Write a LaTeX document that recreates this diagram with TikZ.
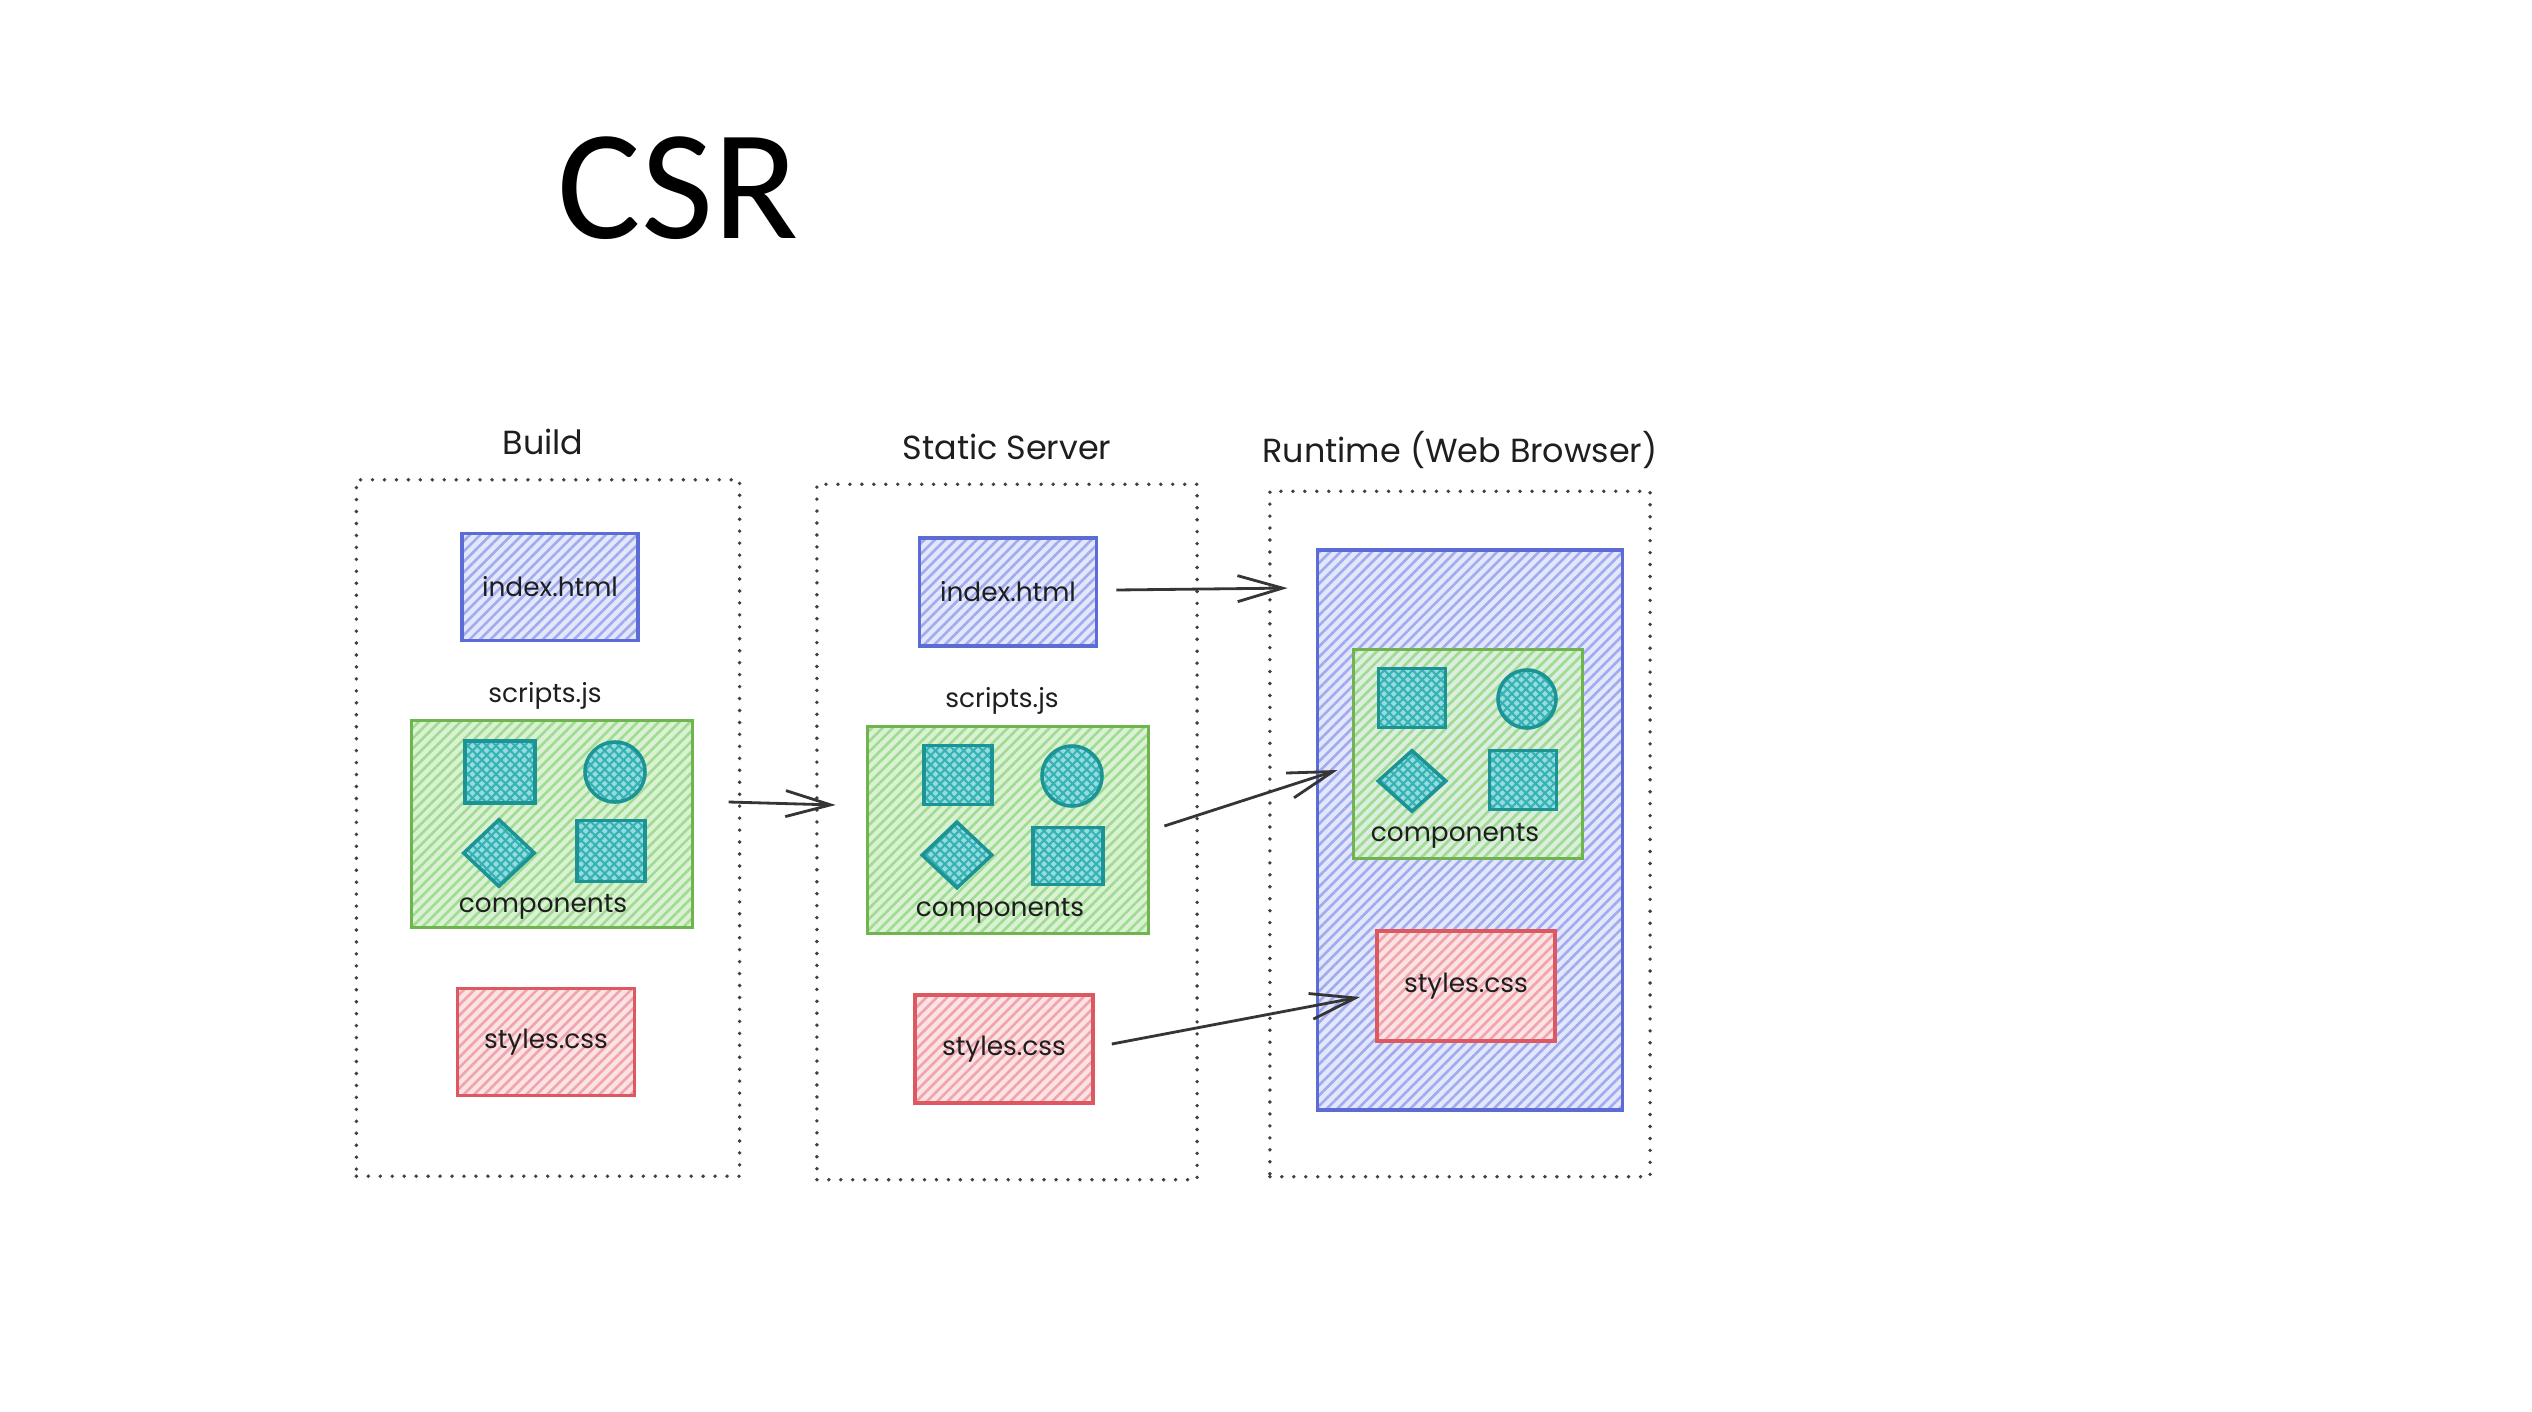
\documentclass[tikz,border=0pt]{standalone}
\usepackage{fontspec}
\setmainfont{Poppins}
\newfontfamily\titlefont{Carlito}
\usetikzlibrary{calc,shapes.geometric,patterns.meta,arrows.meta}

\definecolor{blueline}{RGB}{92,107,214}
\definecolor{bluehatch}{RGB}{160,172,238}
\definecolor{bluefill}{RGB}{228,231,251}
\definecolor{greenline}{RGB}{112,180,78}
\definecolor{greenhatch}{RGB}{160,220,148}
\definecolor{greenfill}{RGB}{218,241,211}
\definecolor{redline}{RGB}{222,88,98}
\definecolor{redhatch}{RGB}{240,165,172}
\definecolor{redfill}{RGB}{251,226,228}
\definecolor{tealline}{RGB}{28,148,150}
\definecolor{tealhatch}{RGB}{52,178,180}
\definecolor{tealfill}{RGB}{150,220,222}
\definecolor{ink}{RGB}{30,30,30}

\begin{document}
\begin{tikzpicture}[x=0.01cm,y=-0.01cm,
  frame/.style={draw=ink!85,line width=1.1pt,dash pattern=on 0pt off 3.4pt,line cap=round,inner sep=0},
  hatch/.style n args={3}{draw=#1,line width=1pt,inner sep=0,preaction={fill=#3},
    pattern={Lines[angle=45,distance=2.1pt,line width=0.75pt]},pattern color=#2},
  bluebox/.style={hatch={blueline}{bluehatch}{bluefill}},
  greenbox/.style={hatch={greenline}{greenhatch}{greenfill}},
  redbox/.style={hatch={redline}{redhatch}{redfill}},
  comp/.style={draw=tealline,line width=1pt,inner sep=0,preaction={fill=tealfill},
    preaction={pattern={Lines[angle=45,distance=1.9pt,line width=0.6pt]},pattern color=tealhatch},
    pattern={Lines[angle=-45,distance=1.9pt,line width=0.6pt]},pattern color=tealhatch},
  label/.style={font=\fontsize{9.5}{11}\selectfont,text=ink,inner sep=0},
  file/.style={font=\fontsize{7.5}{9}\selectfont,text=ink},
  arr/.style={-{Straight Barb[length=4.5mm,width=2.6mm]},color=ink!90,line width=0.8pt}]
\useasboundingbox (0,0) rectangle (2532,1412);

\node(title) at (557,238)[anchor=base west,inner sep=0,font=\titlefont\fontsize{44.6}{50}\selectfont]{CSR};

% Build
\node(bbox) at (548,828)[frame,minimum width=3.83cm,minimum height=6.96cm]{};
\node(blabel) at (543,442)[label]{Build};
\node(bindex) at (550,587)[bluebox,minimum width=1.76cm,minimum height=1.07cm,file]{index.html};
\node(bscripts) at (545,696)[file]{scripts.js};
\node(bgreen) at (552,824)[greenbox,minimum width=2.81cm,minimum height=2.07cm]{};
\node(bsq1) at (500,772)[comp,minimum width=0.70cm,minimum height=0.62cm]{};
\node(bcirc) at (615,772)[comp,circle,minimum size=0.60cm]{};
\node(bdia) at (499,853)[comp,diamond,minimum width=0.72cm,minimum height=0.68cm]{};
\node(bsq2) at (611,851)[comp,minimum width=0.68cm,minimum height=0.61cm]{};
\node(bcomp) at (543,907)[file]{components};
\node(bstyles) at (546,1042)[redbox,minimum width=1.77cm,minimum height=1.07cm,file]{styles.css};

% Static Server
\node(sbox) at (1007,832)[frame,minimum width=3.80cm,minimum height=6.95cm]{};
\node(slabel) at (1007,447)[label]{Static Server};
\node(sindex) at (1008,592)[bluebox,minimum width=1.77cm,minimum height=1.08cm,file]{index.html};
\node(sscripts) at (1002,701)[file]{scripts.js};
\node(sgreen) at (1008,830)[greenbox,minimum width=2.81cm,minimum height=2.07cm]{};
\node(ssq1) at (958,775)[comp,minimum width=0.68cm,minimum height=0.59cm]{};
\node(scirc) at (1072,776)[comp,circle,minimum size=0.60cm]{};
\node(sdia) at (957,855)[comp,diamond,minimum width=0.71cm,minimum height=0.67cm]{};
\node(ssq2) at (1068,856)[comp,minimum width=0.70cm,minimum height=0.57cm]{};
\node(scomp) at (1000,911)[file]{components};
\node(sstyles) at (1004,1049)[redbox,minimum width=1.78cm,minimum height=1.08cm,file]{styles.css};

% Runtime
\node(rbox) at (1460,834)[frame,minimum width=3.80cm,minimum height=6.85cm]{};
\node(rlabel) at (1460,450)[label]{Runtime (Web Browser)};
\node(rblue) at (1470,830)[bluebox,minimum width=3.05cm,minimum height=5.60cm]{};
\node(rgreen) at (1468,754)[greenbox,fill opacity=0.75,minimum width=2.29cm,minimum height=2.09cm]{};
\node(rsq1) at (1412,698)[comp,minimum width=0.67cm,minimum height=0.59cm]{};
\node(rcirc) at (1527,699)[comp,circle,minimum size=0.58cm]{};
\node(rdia) at (1412,781)[comp,diamond,minimum width=0.69cm,minimum height=0.62cm]{};
\node(rsq2) at (1523,780)[comp,minimum width=0.67cm,minimum height=0.59cm]{};
\node(rcomp) at (1455,836)[file]{components};
\node(rstyles) at (1466,986)[redbox,minimum width=1.78cm,minimum height=1.10cm,file]{styles.css};

\path[arr]
  ($(bbox.east)+(-13,-26)$)     edge ($(sgreen.west)+(-30,-25)$)
  ($(sindex.east)+(18,-2)$)     edge ($(rblue.north west)+(-28,40)$)
  ($(sgreen.east)+(14,-4)$)     edge ($(rgreen.west)+(-14,16)$)
  ($(sstyles.east)+(17,-5)$)    edge ($(rstyles.west)+(-15,11)$);
\end{tikzpicture}
\end{document}
